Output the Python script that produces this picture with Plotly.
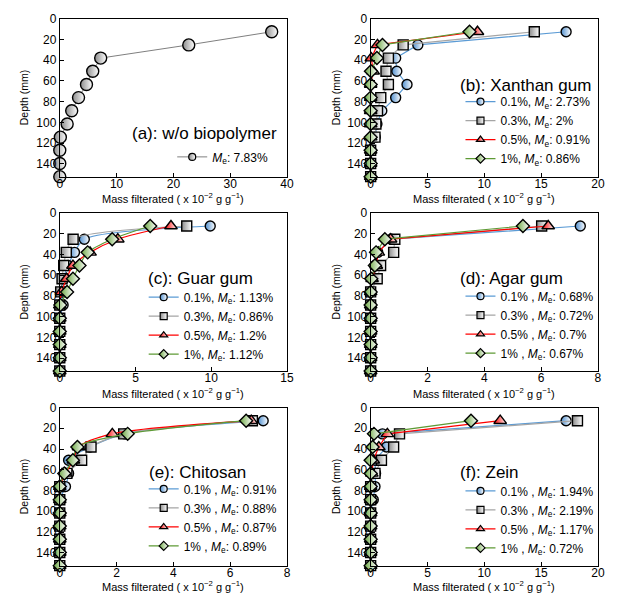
import plotly.graph_objects as go

depth = [12.7, 25.4, 38.1, 50.8, 63.5, 76.2, 88.9, 101.6, 114.3, 127.0, 139.7, 152.4]

# (a) without biopolymer
a_vals = [37.3, 22.7, 7.2, 5.8, 4.7, 3.3, 2.1, 1.3, 0.1, 0.0, 0.0, 0.0]

# (b) Xanthan gum
b_01 = [17.2, 4.15, 2.2, 2.3, 3.2, 2.2, 0.98, 0.55, 0.4, 0, 0, 0]
b_03 = [14.4, 2.86, 1.56, 1.35, 1.56, 0.89, 0.6, 0.46, 0.38, 0, 0, 0]
b_05 = [9.4, 0.6, 0.06, 0.22, 0, 0, 0, 0, 0, 0, 0, 0]
b_1 = [8.7, 1.04, 0.55, 0.03, 0, 0, 0, 0, 0, 0, 0, 0]

# (c) Guar gum
c_01 = [9.93, 1.62, 0.97, 0.55, 0.25, 0.12, 0.22, 0, 0, 0, 0, 0]
c_03 = [8.38, 0.88, 0.43, 0.26, 0.15, 0.06, 0, 0, 0, 0, 0, 0]
c_05 = [7.34, 3.83, 2.0, 0.87, 0.45, 0.12, 0, 0, 0, 0, 0, 0]
c_1 = [5.97, 3.46, 1.84, 1.3, 0.87, 0.48, 0.04, 0, 0, 0, 0, 0]

# (d) Agar gum
d_01 = [7.38, 0.72, 0.25, 0.15, 0.05, 0, 0, 0, 0, 0, 0, 0]
d_03 = [6.02, 0.85, 0.81, 0.35, 0.23, 0, 0, 0, 0, 0, 0, 0]
d_05 = [6.25, 0.7, 0.27, 0.2, 0.05, 0, 0, 0, 0, 0, 0, 0]
d_1 = [5.36, 0.5, 0.19, 0.15, 0.02, 0, 0, 0, 0, 0, 0, 0]

# (e) Chitosan
e_01 = [7.16, 2.3, 1.06, 0.31, 0.31, 0.2, 0, 0, 0, 0, 0, 0]
e_03 = [6.78, 2.25, 1.1, 0.77, 0.25, 0, 0, 0, 0, 0, 0, 0]
e_05 = [6.74, 1.85, 0.66, 0.48, 0.2, 0, 0, 0, 0, 0, 0, 0]
e_1 = [6.56, 2.39, 0.62, 0.46, 0.16, 0, 0, 0, 0, 0, 0, 0]

# (f) Zein
f_01 = [17.2, 1.04, 1.39, 0.38, 0.43, 0.38, 0.23, 0, 0, 0, 0, 0]
f_03 = [18.2, 2.54, 2.02, 0.95, 0.38, 0, 0, 0, 0, 0, 0, 0]
f_05 = [11.4, 1.47, 0.72, 0.23, 0.1, 0, 0, 0, 0, 0, 0, 0]
f_1 = [8.83, 0.29, 0.17, 0.0, 0, 0, 0, 0, 0, 0, 0, 0]

panel_titles = ["(a): w/o biopolymer", "(b): Xanthan gum", "(c): Guar gum",
                "(d): Agar gum", "(e): Chitosan", "(f): Zein"]
x_max = [40, 20, 15, 8, 8, 20]
x_dtick = [10, 5, 5, 2, 2, 5]

labels_b = ["0.1%, ", "0.3%, ", "0.5%, ", "1%, "]
labels_c = ["0.1%, ", "0.3%, ", "0.5%, ", "1%, "]
labels_def = ["0.1% , ", "0.3% , ", "0.5% , ", "1% , "]
me_b = ["2.73%", "2%", "0.91%", "0.86%"]
me_c = ["1.13%", "0.86%", "1.2%", "1.12%"]
me_d = ["0.68%", "0.72%", "0.7%", "0.67%"]
me_e = ["0.91%", "0.88%", "0.87%", "0.89%"]
me_f = ["1.94%", "2.19%", "1.17%", "0.72%"]
me_a = "7.83%"

W, H = 618, 593
FONT = "Liberation Sans, Arial, sans-serif"

def px_x(p):
    return p / W

def px_y(p):
    return 1 - p / H

col_px = [(57.7, 288.7), (373.7, 604.7)]
row_px = [(11.7, 171.7), (208.3, 368.3), (405.3, 565.3)]

styles = [
    dict(line="#5B9BD5", fill="#4F8FCF", symbol="circle", size=10),
    dict(line="#A5A5A5", fill="#8C8C8C", symbol="square", size=10),
    dict(line="#FF0000", fill="#FF0000", symbol="triangle-up", size=11),
    dict(line="#5E9A35", fill="#6AA640", symbol="diamond", size=10),
]

fig = go.Figure()

series = [
    [a_vals],
    [b_01, b_03, b_05, b_1],
    [c_01, c_03, c_05, c_1],
    [d_01, d_03, d_05, d_1],
    [e_01, e_03, e_05, e_1],
    [f_01, f_03, f_05, f_1],
]
labels = [None, labels_b, labels_c, labels_def, labels_def, labels_def]
mes = [None, me_b, me_c, me_d, me_e, me_f]
shapes_line = ["linear", "linear", "spline", "linear", "spline", "linear"]

a_style = dict(line="#7F7F7F", fill="#8C8C8C", symbol="circle", size=12)

for i in range(6):
    xa = "x" if i == 0 else f"x{i+1}"
    ya = "y" if i == 0 else f"y{i+1}"
    lg = "legend" if i == 0 else f"legend{i+1}"
    for j, vals in enumerate(series[i]):
        st = a_style if i == 0 else styles[j]
        name = (f"<i>M</i><sub>e</sub>: {me_a}" if i == 0
                else f"{labels[i][j]}<i>M</i><sub>e</sub>: {mes[i][j]}")
        lw = 1.0 if i == 0 else 1.2
        fig.add_trace(go.Scatter(
            x=vals, y=depth, xaxis=xa, yaxis=ya, mode="lines+markers",
            showlegend=False,
            line=dict(color=st["line"], width=lw, shape=shapes_line[i], smoothing=0.8),
            marker=dict(symbol=st["symbol"], size=st["size"], color=st["fill"],
                        gradient=dict(type="horizontal", color="#FFFFFF"),
                        line=dict(color="#000000", width=1.4)),
            cliponaxis=False))
        fig.add_trace(go.Scatter(
            x=[None], y=[None], xaxis=xa, yaxis=ya, mode="lines+markers",
            name=name, legend=lg, showlegend=True,
            line=dict(color=st["line"], width=lw),
            marker=dict(symbol=st["symbol"], size=7, color=st["fill"],
                        gradient=dict(type="horizontal", color="#FFFFFF"),
                        line=dict(color="#000000", width=1.2))))

layout = dict(
    width=W, height=H, margin=dict(l=0, r=0, t=0, b=0),
    paper_bgcolor="white", plot_bgcolor="white",
    font=dict(family=FONT, size=12, color="#000000"),
    showlegend=True,
)

ann = []
legend_pos = [(172, 137), (465, 81), (143, 279), (465, 278), (143, 473), (465, 475)]
title_pos = [(129, 128), (462, 79), (145, 275), (462, 275), (146, 471), (462, 471)]
xtitle_off = [22, 22, 21]

for i in range(6):
    r, c = divmod(i, 2)
    cx0, cx1 = col_px[c]
    ry0, ry1 = row_px[r]
    sfx = "" if i == 0 else str(i + 1)
    layout["xaxis" + sfx] = dict(
        domain=[px_x(cx0), px_x(cx1)], anchor="y" + sfx,
        range=[0, x_max[i]], dtick=x_dtick[i], tick0=0,
        showgrid=False, zeroline=False, showline=True, linecolor="#000000", linewidth=1,
        mirror=True, ticks="inside", ticklen=4, tickcolor="#000000",
        tickfont=dict(size=12, family=FONT), fixedrange=True,
        ticklabelstandoff=-4,
    )
    layout["yaxis" + sfx] = dict(
        domain=[px_y(ry1), px_y(ry0)], anchor="x" + sfx,
        range=[152.4, 0], dtick=20, tick0=0,
        showgrid=False, zeroline=False, showline=True, linecolor="#000000", linewidth=1,
        mirror=True, ticks="inside", ticklen=4, tickcolor="#000000",
        tickfont=dict(size=12, family=FONT), fixedrange=True,
    )
    lg = "legend" if i == 0 else f"legend{i+1}"
    lx, ly = legend_pos[i]
    layout[lg] = dict(
        x=px_x(lx), y=px_y(ly), xanchor="left", yanchor="top",
        bgcolor="rgba(0,0,0,0)", borderwidth=0,
        font=dict(size=12, family=FONT), itemwidth=30,
        tracegroupgap=0,
    )
    tx, ty = title_pos[i]
    ann.append(dict(x=px_x(tx), y=px_y(ty), xref="paper", yref="paper",
                    xanchor="left", yanchor="middle", showarrow=False,
                    text=panel_titles[i], font=dict(size=17, family=FONT)))
    ann.append(dict(x=px_x(21 if c == 0 else 338), y=px_y((ry0 + ry1) / 2),
                    xref="paper", yref="paper", xanchor="center", yanchor="middle",
                    showarrow=False, textangle=-90, text="Depth (mm)",
                    font=dict(size=10.5, family=FONT)))
    ann.append(dict(x=px_x((cx0 + cx1) / 2), y=px_y(ry1 + xtitle_off[r]),
                    xref="paper", yref="paper", xanchor="center", yanchor="middle",
                    showarrow=False,
                    text="Mass filterated ( x 10<sup>\u22122</sup> g g<sup>\u22121</sup>)",
                    font=dict(size=11, family=FONT)))

layout["annotations"] = ann
fig.update_layout(**layout)
fig.write_html("out.html", config={"displayModeBar": False},
               post_script="document.body.style.margin='0px';document.body.style.overflow='hidden';")
